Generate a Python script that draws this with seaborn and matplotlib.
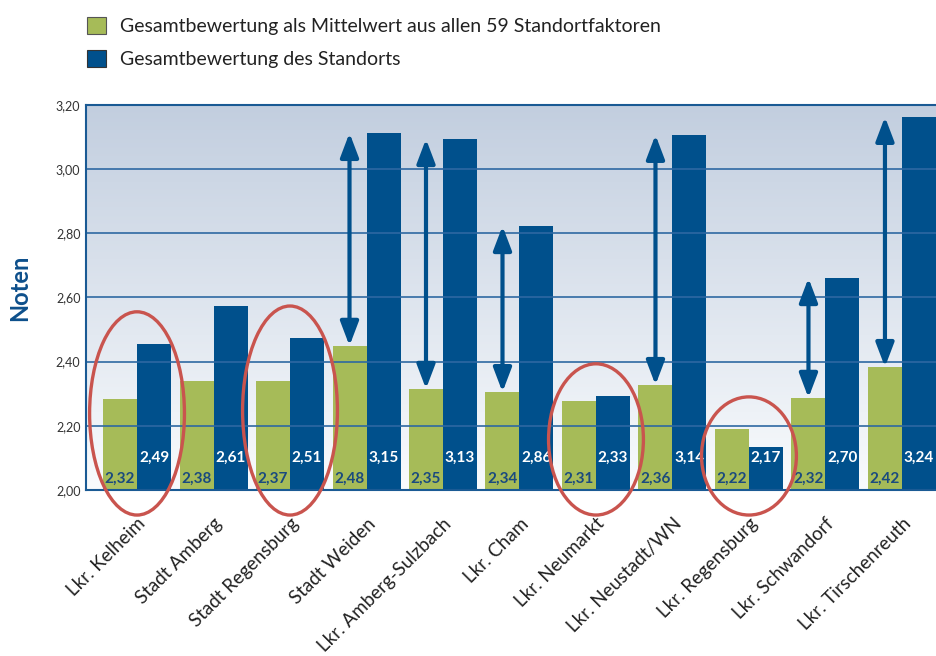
import numpy as np
import pandas as pd
import matplotlib
matplotlib.use("Agg")
import matplotlib.pyplot as plt
import seaborn as sns
from matplotlib.patches import Ellipse, Patch
from matplotlib.colors import LinearSegmentedColormap

# ---------------- data ----------------
standorte = ["Lkr. Kelheim", "Stadt Amberg", "Stadt Regensburg", "Stadt Weiden",
             "Lkr. Amberg-Sulzbach", "Lkr. Cham", "Lkr. Neumarkt", "Lkr. Neustadt/WN",
             "Lkr. Regensburg", "Lkr. Schwandorf", "Lkr. Tirschenreuth"]
serien = ["Gesamtbewertung als Mittelwert aus allen 59 Standortfaktoren",
          "Gesamtbewertung des Standorts"]
# bar heights as drawn in the picture
mittelwert_hoehe = [2.283, 2.340, 2.340, 2.449, 2.315, 2.305, 2.277, 2.327, 2.190, 2.287, 2.383]
standort_hoehe = [2.455, 2.573, 2.473, 3.112, 3.093, 2.822, 2.293, 3.106, 2.134, 2.660, 3.162]
# printed value labels
mittelwert_label = ["2,32", "2,38", "2,37", "2,48", "2,35", "2,34", "2,31", "2,36", "2,22", "2,32", "2,42"]
standort_label = ["2,49", "2,61", "2,51", "3,15", "3,13", "2,86", "2,33", "3,14", "2,17", "2,70", "3,24"]
y_ticks = [2.0, 2.2, 2.4, 2.6, 2.8, 3.0, 3.2]
y_tick_labels = ["2,00", "2,20", "2,40", "2,60", "2,80", "3,00", "3,20"]
ellipse_standorte = ["Lkr. Kelheim", "Stadt Regensburg", "Lkr. Neumarkt", "Lkr. Regensburg"]
pfeil_standorte = ["Stadt Weiden", "Lkr. Amberg-Sulzbach", "Lkr. Cham",
                   "Lkr. Neustadt/WN", "Lkr. Schwandorf", "Lkr. Tirschenreuth"]

GREEN = "#a6bb58"
BLUE = "#00508c"
RED = "#c9544e"
LINE = "#2d68a2"

df = pd.DataFrame({
    "Standort": standorte * 2,
    "Serie": [serien[0]] * len(standorte) + [serien[1]] * len(standorte),
    "Note": mittelwert_hoehe + standort_hoehe,
})

sns.set_style("white")
plt.rcParams["font.family"] = ["Lato", "DejaVu Sans"]

fig = plt.figure(figsize=(9.36, 6.56), dpi=100)
ax = fig.add_axes([86 / 936, 1 - 490 / 656, 1 - 86 / 936, (490 - 104.7) / 656])

sns.barplot(data=df, x="Standort", y="Note", hue="Serie", order=standorte,
            hue_order=serien, palette=[GREEN, BLUE], width=0.889, gap=0,
            saturation=1, legend=False, ax=ax, zorder=2, linewidth=0)

x0, x1 = -0.667, 10.445
ax.set_xlim(x0, x1)
ax.set_ylim(2.0, 3.2)

# gradient background
cmap = LinearSegmentedColormap.from_list("bg", ["#f9fbfd", "#c2cedf"])
grad = np.linspace(0, 1, 256).reshape(-1, 1)
ax.imshow(grad, extent=(x0, x1, 2.0, 3.2), origin="lower", aspect="auto",
          cmap=cmap, zorder=0)

for yv in y_ticks[1:-1]:
    ax.axhline(yv, color=LINE, lw=1.4, alpha=0.85, zorder=2.5)

ax.set_yticks(y_ticks)
ax.set_yticklabels(y_tick_labels, fontsize=9, color="#333333")
ax.tick_params(axis="y", length=0, pad=4)
ax.tick_params(axis="x", length=0, pad=18)
ax.set_xticks(range(len(standorte)))
ax.set_xticklabels(standorte, rotation=45, ha="right", rotation_mode="anchor",
                   fontsize=13.5, color="#222222")
ax.set_xlabel("")
ax.set_ylabel("Noten", fontsize=17, fontweight="bold", color="#0d4f8b")
ax.yaxis.set_label_coords(-0.064, 0.525)

for side in ["left", "top", "bottom"]:
    ax.spines[side].set_color("#1a5a94")
    ax.spines[side].set_linewidth(1.5)
    ax.spines[side].set_visible(True)
ax.spines["right"].set_visible(False)

green_bars = ax.containers[0]
blue_bars = ax.containers[1]

for i, name in enumerate(standorte):
    gb = green_bars[i]
    bb = blue_bars[i]
    gx = gb.get_x() + gb.get_width() / 2
    bx = bb.get_x() + bb.get_width() / 2
    ax.text(gx, 2.034, mittelwert_label[i], ha="center", va="center",
            fontsize=11, fontweight="bold", color="#1a4a7e", zorder=6)
    ax.text(bx, 2.10, standort_label[i], ha="center", va="center",
            fontsize=11, fontweight="bold", color="white", zorder=6)
    if name in pfeil_standorte:
        ax.annotate("", xy=(gx, standort_hoehe[i]), xytext=(gx, mittelwert_hoehe[i]),
                    arrowprops=dict(arrowstyle="<|-|>,head_length=1.45,head_width=0.55",
                                    color=BLUE, lw=3, shrinkA=0, shrinkB=0,
                                    mutation_scale=10),
                    zorder=5)
    if name in ellipse_standorte:
        top = max(mittelwert_hoehe[i], standort_hoehe[i]) + 0.10
        bottom = 1.922
        cx = (gb.get_x() + bb.get_x() + bb.get_width()) / 2
        ax.add_patch(Ellipse((cx, (top + bottom) / 2), 1.24, top - bottom,
                             fill=False, ec=RED, lw=2.4, clip_on=False, zorder=7))

handles = [Patch(facecolor=GREEN, edgecolor="#555555", lw=0.8),
           Patch(facecolor=BLUE, edgecolor="#333333", lw=0.8)]
fig.legend(handles, serien, loc="upper left", bbox_to_anchor=(87 / 936, 1 - 17 / 656),
           frameon=False, fontsize=14, handlelength=1.0, handleheight=1.0,
           handletextpad=0.7, labelspacing=0.75, borderpad=0, borderaxespad=0,
           labelcolor="#222222")

fig.savefig("out.png", dpi=100)
